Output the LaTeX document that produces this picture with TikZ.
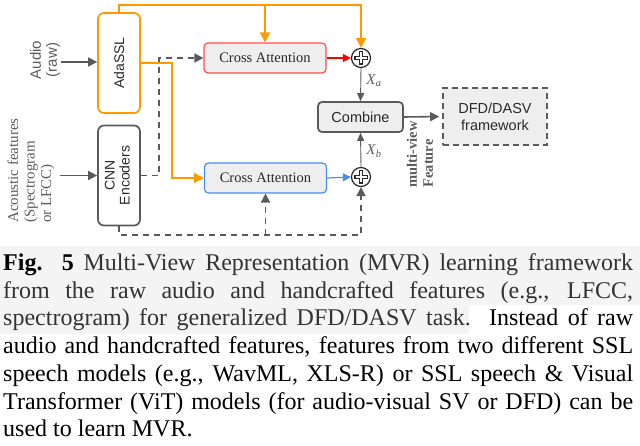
\documentclass[tikz,border=0pt]{standalone}
\usepackage{fontspec}
\usepackage{graphicx}
\setmainfont{Liberation Serif}
\setsansfont{Liberation Sans}
\usetikzlibrary{arrows.meta,calc}
\definecolor{org}{HTML}{FF9900}
\definecolor{redc}{HTML}{FF4D4D}
\definecolor{bluec}{HTML}{4A8CEF}
\definecolor{lgray}{HTML}{5A5A5A}
\definecolor{boxfill}{HTML}{EEEEEE}
\definecolor{txt}{HTML}{2A2A2A}
\definecolor{lab}{HTML}{5C5C5C}
\definecolor{hl}{HTML}{F4F4F4}
\definecolor{hltxt}{HTML}{333333}
\newcommand\mvrplus[1]{%
  \draw[line width=4.8pt, txt] ($(#1)+(-6.8pt,0)$) -- ($(#1)+(6.8pt,0)$);
  \draw[line width=4.8pt, txt] ($(#1)+(0,-6.8pt)$) -- ($(#1)+(0,6.8pt)$);
  \draw[line width=2pt, white] ($(#1)+(-5.5pt,0)$) -- ($(#1)+(5.5pt,0)$);
  \draw[line width=2pt, white] ($(#1)+(0,-5.5pt)$) -- ($(#1)+(0,5.5pt)$);
}
\begin{document}
\begin{tikzpicture}[x=1pt,y=-1pt,
  sidebox/.style={draw=#1, line width=1.7pt, rounded corners=6pt, fill=white,
    minimum width=42pt, minimum height=100pt, inner sep=0pt, text=txt,
    font=\sffamily\fontsize{14}{16}\selectfont},
  cabox/.style={draw=#1, line width=1.2pt, rounded corners=4pt, fill=boxfill,
    minimum width=122pt, minimum height=30pt, inner sep=0pt, text=txt,
    font=\fontsize{14.5}{16}\selectfont},
  combbox/.style={draw=lgray, line width=1.7pt, rounded corners=4pt, fill=boxfill,
    minimum width=85pt, minimum height=30pt, inner sep=0pt, text=txt,
    font=\sffamily\fontsize{14.5}{16}\selectfont},
  dfdbox/.style={draw=lgray, line width=1.7pt, dash pattern=on 6pt off 4pt, fill=boxfill,
    minimum width=104pt, minimum height=57pt, inner sep=0pt, text=txt, align=center,
    font=\sffamily\fontsize{14.5}{17}\selectfont},
  sumnode/.style={circle, draw=txt, line width=1.2pt, fill=white, minimum size=19pt, inner sep=0pt},
  garr/.style={draw=lgray, line width=1.6pt, -{Triangle[length=9pt,width=9pt]}},
  thinarr/.style={draw=lgray, line width=0.9pt, -{Triangle[length=8pt,width=7pt]}},
  oarr/.style={draw=org, line width=1.7pt, -{Triangle[length=10pt,width=10pt]}},
  darr/.style={draw=lgray, line width=1.6pt, dash pattern=on 6pt off 5pt, -{Triangle[length=9pt,width=9pt]}},
  rarr/.style={draw=red, line width=1.2pt, -{Triangle[length=8pt,width=8pt]}},
  barr/.style={draw=bluec, line width=1.2pt, -{Triangle[length=8pt,width=8pt]}},
  lbl/.style={inner sep=0pt, text=lab},
  capline/.style={anchor=base west, inner sep=0pt, font=\fontsize{24}{27.6}\selectfont},
]
\useasboundingbox (0,0) rectangle (640,446);

% input labels
\node[lbl, rotate=90, align=center, font=\sffamily\fontsize{15}{16}\selectfont] (audio) at (45,60) {Audio\\(raw)};
\node[lbl, rotate=90, align=left, font=\fontsize{15}{16.5}\selectfont] (aco) at (31,170.5) {Acoustic features\\(Spectrogram\\or LFCC)};

% boxes
\node[sidebox=org] (ada) at (119,63) {\rotatebox{90}{AdaSSL}};
\node[sidebox=lgray] (cnn) at (119,175.5) {\rotatebox{90}{\begin{tabular}{@{}c@{}}CNN\\[-1pt]Encoders\end{tabular}}};
\node[cabox=redc] (ca1) at (265,58) {Cross Attention};
\node[cabox=bluec] (ca2) at (265.5,178) {Cross Attention};
\node[sumnode] (p1) at (361,58) {};
\node[sumnode] (p2) at (361,177) {};
\node[combbox] (comb) at (360.5,117) {Combine};
\node[dfdbox] (dfd) at (495,116.5) {DFD/DASV\\framework};
\mvrplus{p1}
\mvrplus{p2}

\node[lbl, rotate=90, align=left, font=\bfseries\fontsize{14.5}{16}\selectfont] (mv) at (420,154.5) {multi-view\\Feature};
\node[lbl, font=\fontsize{15}{16}\selectfont] (xa) at (374,81) {\textit{X}\textsubscript{\textit{a}}};
\node[lbl, font=\fontsize{15}{16}\selectfont] (xb) at (374,151) {\textit{X}\textsubscript{\textit{b}}};

% coordinates
\coordinate (ain) at (61,62);
\coordinate (cin) at (60,175.5);
\coordinate (tl) at (119,5);
\coordinate (ob) at (172,178);
\coordinate (db) at (159,58);
\coordinate (bl) at (119,235);

% connectors
\draw[garr] (ain) -- (ada.west |- ain);
\draw[garr] (cin) -- (cnn.west);
\draw[oarr] (ada.north) -- (tl) -| (p1.north);
\draw[oarr] (ca1.north |- tl) -- (ca1.north);
\draw[oarr] (ada.east) -| (ob) -- (ca2.west);
\draw[darr] (cnn.east) -| (db) -- (ca1.west);
\draw[darr] (cnn.south) -- (bl) -| (p2.south);
\draw[darr] (ca2.south |- bl) -- (ca2.south);
\draw[rarr] (ca1.east) -- (p1.west);
\draw[barr] (ca2.east) -- (p2.west);
\draw[thinarr] (p1.south) -- (comb.north);
\draw[thinarr] (p2.north) -- (comb.south);
\draw[garr, shorten >=3pt] (comb.east) -- (dfd.west);

% caption
\fill[hl] (0,246) -- (640,246) -- (640,305) -- (469,305) -- (469,334) -- (0,334) -- cycle;
\node[capline] (c1) at (3,271) {\makebox[630pt][s]{\color{hltxt}\textbf{\color{black}Fig. 5} Multi-View Representation (MVR) learning framework}};
\node[capline] (c2) at (3,299) {\makebox[630pt][s]{\color{hltxt}from the raw audio and handcrafted features (e.g., LFCC,}};
\node[capline] (c3) at (3,326) {\makebox[630pt][s]{{\color{hltxt}spectrogram) for generalized DFD/DASV task.} Instead of raw}};
\node[capline] (c4) at (3,354) {\makebox[630pt][s]{audio and handcrafted features, features from two different SSL}};
\node[capline] (c5) at (3,381.5) {\makebox[630pt][s]{speech models (e.g., WavML, XLS-R) or SSL speech \& Visual}};
\node[capline] (c6) at (3,409) {\makebox[630pt][s]{Transformer (ViT) models (for audio-visual SV or DFD) can be}};
\node[capline] (c7) at (3,436.5) {used to learn MVR.};
\end{tikzpicture}
\end{document}
